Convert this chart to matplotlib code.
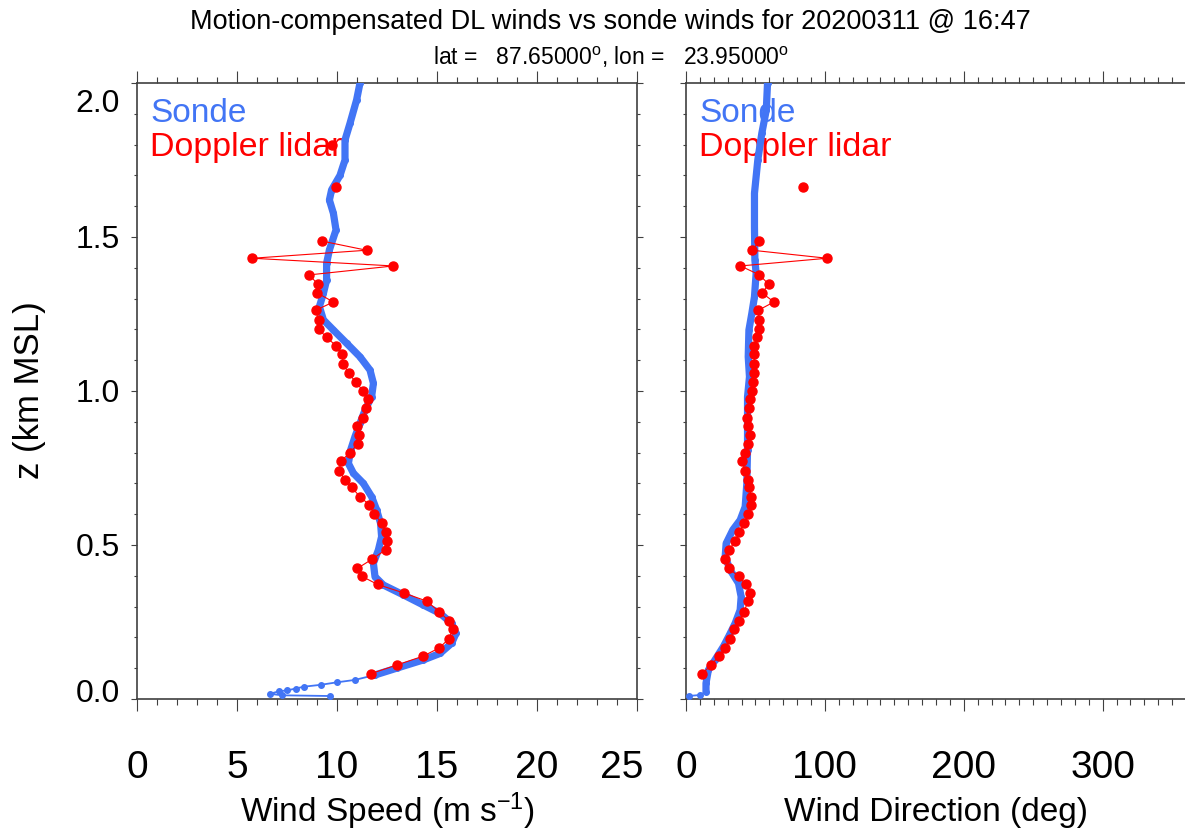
import numpy as np
import matplotlib
matplotlib.use('Agg')
import matplotlib.pyplot as plt
from matplotlib.transforms import ScaledTranslation
from matplotlib.ticker import MultipleLocator

# ---------------- data ----------------
# Doppler lidar gates (km MSL); NaN breaks the connecting line
dl_z = [0.082, 0.111, 0.139, 0.166, 0.196, 0.226, 0.253, 0.283, 0.318, 0.344,
        0.372, 0.398, 0.424, 0.453, 0.485, 0.513, 0.542, 0.571, 0.601, 0.630,
        0.657, 0.687, 0.712, 0.741, 0.773, 0.800, 0.829, 0.857, 0.886, 0.913,
        0.944, 0.974, 1.001, 1.028, 1.058, 1.089, 1.119, 1.146, 1.174, 1.201,
        1.231, 1.262, 1.289, 1.318, 1.347, 1.377, 1.406, 1.431, 1.457, 1.487,
        np.nan, 1.661, np.nan, 1.800]
dl_spd = [11.68, 13.02, 14.30, 15.12, 15.60, 15.78, 15.60, 15.12, 14.48, 13.35,
          12.03, 11.25, 11.02, 11.73, 12.45, 12.48, 12.45, 12.23, 11.87, 11.62,
          11.15, 10.73, 10.40, 10.10, 10.21, 10.65, 11.05, 11.10, 10.98, 11.32,
          11.47, 11.53, 11.30, 10.95, 10.58, 10.30, 10.27, 9.97, 9.48, 9.08,
          9.08, 8.93, 9.82, 9.02, 9.03, 8.62, 12.82, 5.77, 11.48, 9.23,
          np.nan, 9.93, np.nan, 9.75]
dl_dir = [11.6, 18.3, 23.6, 28.2, 31.8, 34.9, 38.3, 41.7, 44.8, 46.2,
          43.1, 37.8, 31.0, 28.2, 31.0, 35.6, 38.5, 41.7, 44.8, 46.7,
          46.9, 45.7, 44.3, 42.4, 40.6, 42.6, 44.8, 46.2, 44.8, 43.8,
          45.3, 46.4, 47.2, 47.9, 48.6, 49.3, 49.3, 49.3, 51.0, 52.2,
          52.7, 52.0, 63.3, 54.9, 59.4, 52.9, 39.2, 101.6, 47.7, 52.9,
          np.nan, 84.2, np.nan, np.nan]

# Radiosonde wind speed profile
sonde_z_spd = [0.0097, 0.012, 0.017, 0.025, 0.028, 0.034, 0.040, 0.046, 0.054, 0.062,
               0.078, 0.100, 0.127, 0.148, 0.181, 0.213, 0.246, 0.278, 0.305, 0.338,
               0.370, 0.397, 0.441, 0.484, 0.527, 0.570, 0.614, 0.657, 0.700, 0.733,
               0.765, 0.808, 0.852, 0.895, 0.938, 0.981, 1.025, 1.068, 1.111, 1.155,
               1.198, 1.231, 1.274, 1.317, 1.360, 1.415, 1.458, 1.523, 1.577, 1.620,
               1.653, 1.700, 1.750, 1.815, 1.869, 1.945, 2.000]
sonde_spd = [9.65, 7.23, 6.65, 7.10, 7.52, 7.93, 8.35, 9.18, 9.98, 10.90,
             11.90, 12.98, 14.32, 15.15, 15.73, 15.95, 15.73, 15.15, 14.32, 13.32,
             12.32, 11.90, 11.82, 12.07, 12.23, 12.18, 11.98, 11.73, 11.32, 10.82,
             10.57, 10.68, 10.90, 11.15, 11.40, 11.73, 11.82, 11.65, 11.15, 10.48,
             9.82, 9.32, 9.12, 9.32, 9.48, 9.48, 9.62, 9.95, 9.82, 9.62,
             9.73, 10.15, 10.40, 10.40, 10.65, 10.98, 11.15]

# Radiosonde wind direction profile
sonde_z_dir = [0.010, 0.013, 0.024, 0.051, 0.094, 0.127, 0.170, 0.208, 0.246, 0.289,
               0.332, 0.376, 0.419, 0.462, 0.505, 0.549, 0.581, 0.624, 0.700, 0.808,
               0.917, 0.981, 1.046, 1.111, 1.198, 1.252, 1.306, 1.382, 1.425, 1.533,
               1.642, 1.750, 1.837, 1.912, 2.000]
sonde_dir = [2.4, 10.1, 14.4, 14.4, 16.1, 20.9, 26.9, 31.3, 35.4, 39.0,
             39.7, 37.8, 31.8, 28.2, 28.9, 33.7, 39.0, 42.6, 43.8, 44.3,
             44.3, 44.3, 45.7, 44.8, 45.3, 47.4, 49.3, 50.5, 49.6, 49.3,
             49.3, 51.7, 54.6, 57.8, 58.7]

spd_ticks = [0, 5, 10, 15, 20, 25]
dir_ticks = [0, 100, 200, 300]
z_ticks = [0.0, 0.5, 1.0, 1.5, 2.0]
z_labels = ['0.0', '0.5', '1.0', '1.5', '2.0']

title = 'Motion-compensated DL winds vs sonde winds for 20200311 @ 16:47'
subtitle = 'lat =   87.65000$^o$, lon =   23.95000$^o$'

# ---------------- figure ----------------
plt.rcParams['font.family'] = ['Liberation Sans', 'DejaVu Sans']
plt.rcParams['mathtext.default'] = 'regular'

W, H = 1185, 833
fig = plt.figure(figsize=(W / 100, H / 100), dpi=100)


def px_axes(x0, x1, ytop, ybot):
    return fig.add_axes([x0 / W, 1 - ybot / H, (x1 - x0) / W, (ybot - ytop) / H])


ax1 = px_axes(137, 637, 83, 699)
ax2 = px_axes(686, 1186, 83, 699)

BLUE = '#4275f5'
RED = '#ff0000'
SPINE = '#404040'

# sonde: markers + thin line, thick trace where samples are dense
ax1.plot(sonde_spd, sonde_z_spd, color=BLUE, lw=1.3, marker='o', ms=4, mec=BLUE, zorder=3)
ax1.plot(sonde_spd[10:], sonde_z_spd[10:], color=BLUE, lw=5.2, solid_capstyle='round', zorder=3)
ax2.plot(sonde_dir, sonde_z_dir, color=BLUE, lw=1.3, marker='o', ms=4, mec=BLUE, zorder=3)
ax2.plot(sonde_dir[2:], sonde_z_dir[2:], color=BLUE, lw=5.2, solid_capstyle='round', zorder=3)

# lidar
ax1.plot(dl_spd, dl_z, color=RED, lw=0.8, marker='o', ms=6.5, mec=RED, zorder=4)
ax2.plot(dl_dir, dl_z, color=RED, lw=0.8, marker='o', ms=6.5, mec=RED, zorder=4)

ax1.set_xlim(0, 25)
ax2.set_xlim(0, 360)
for ax in (ax1, ax2):
    ax.set_ylim(0, 2.0)
    ax.set_yticks(z_ticks)
    ax.yaxis.set_minor_locator(MultipleLocator(0.1))
    for s in ax.spines.values():
        s.set_color(SPINE)
        s.set_linewidth(1.2)
    ax.tick_params(which='both', direction='out', top=True, bottom=True,
                   left=True, colors=SPINE, labelcolor='black')
    ax.tick_params(axis='x', which='major', length=8.5, width=0.8, pad=28, labelsize=28)
    ax.tick_params(axis='x', which='minor', length=4.5, width=0.8)
    ax.tick_params(axis='y', which='major', length=4.5, width=0.8, pad=8, labelsize=23)
    ax.tick_params(axis='y', which='minor', length=2.5, width=0.8)
    ax.text(0.026, 0.951, 'Sonde', color=BLUE, fontsize=24, transform=ax.transAxes,
            ha='left', va='center', zorder=1)
    ax.text(0.026, 0.896, 'Doppler lidar', color=RED, fontsize=24.5, transform=ax.transAxes,
            ha='left', va='center', zorder=1)

ax1.set_xticks(spd_ticks)
ax1.xaxis.set_minor_locator(MultipleLocator(1))
ax1.set_yticklabels(z_labels)
ax1.tick_params(which='both', right=True)

ax2.set_xticks(dir_ticks)
ax2.xaxis.set_minor_locator(MultipleLocator(10))
ax2.tick_params(which='both', right=False, labelleft=False)
ax2.spines['right'].set_visible(False)

# end labels nudged inward as in the reference
yt = ax1.yaxis.get_major_ticks()
yt[-1].label1.set_transform(yt[-1].label1.get_transform() +
                            ScaledTranslation(0, -0.17, fig.dpi_scale_trans))
yt[0].label1.set_transform(yt[0].label1.get_transform() +
                           ScaledTranslation(0, 0.09, fig.dpi_scale_trans))
xt = ax1.xaxis.get_major_ticks()
xt[-1].label1.set_transform(xt[-1].label1.get_transform() +
                            ScaledTranslation(-0.15, 0, fig.dpi_scale_trans))

fig.text(0.515, 1 - 22 / H, title, ha='center', va='center', fontsize=19.5)
fig.text(0.516, 1 - 57 / H, subtitle, ha='center', va='center', fontsize=16.5)
fig.text(387 / W, 1 - 811 / H, 'Wind Speed (m s$^{-1}$)', ha='center', va='center', fontsize=24)
fig.text(936 / W, 1 - 813 / H, 'Wind Direction (deg)', ha='center', va='center', fontsize=24)
fig.text(30 / W, 1 - 390 / H, 'z (km MSL)', rotation=90, ha='center', va='center', fontsize=25)

fig.savefig('out.png', dpi=100)
